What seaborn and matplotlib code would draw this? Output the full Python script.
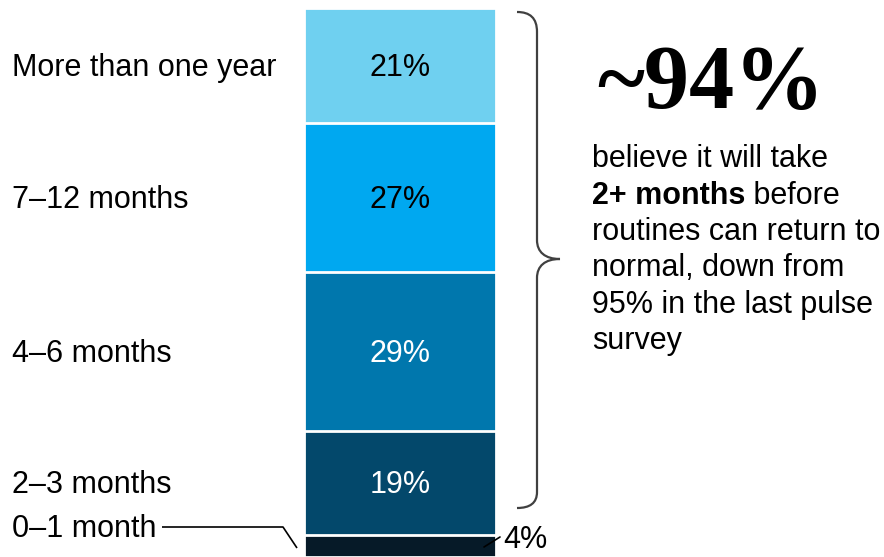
import numpy as np
import pandas as pd
import matplotlib
matplotlib.use("Agg")
import matplotlib.pyplot as plt
import matplotlib.transforms as mtransforms
from matplotlib.path import Path
from matplotlib.patches import PathPatch
import seaborn as sns

# Survey answers: how long until routines return to normal
categories = ["0–1 month", "2–3 months", "4–6 months", "7–12 months", "More than one year"]
shares = [4, 19, 29, 27, 21]
colors = ["#061A28", "#03486B", "#0077AD", "#00A8F0", "#6FD0F0"]
label_colors = ["black", "white", "white", "black", "black"]

headline = "~94%"
body_lines = [
    ("believe it will take", None),
    ("2+ months", " before"),
    ("routines can return to", None),
    ("normal, down from", None),
    ("95% in the last pulse", None),
    ("survey", None),
]

sns.set_theme(style="white")
plt.rcParams["font.family"] = ["Liberation Sans", "DejaVu Sans"]
plt.rcParams["text.color"] = "black"

W, H = 884, 557
fig = plt.figure(figsize=(W / 100, H / 100), dpi=100)
ax = fig.add_axes([0, 0, 1, 1])

# pixel coordinates, origin at top-left
pxT = mtransforms.Affine2D().scale(1 / W, -1 / H).translate(0, 1) + fig.transFigure
# shift down so a baseline-anchored label sits visually centred on its y
drop = mtransforms.ScaledTranslation(0, -10.5 / 100, fig.dpi_scale_trans)

tops = np.cumsum(shares)
bottoms = tops - np.array(shares)
df = pd.DataFrame({"group": ["all"] * len(shares), "category": categories, "top": tops})

# stacked column: draw cumulative heights tallest first so each band keeps its colour
for i in reversed(range(len(categories))):
    sns.barplot(data=df.iloc[[i]], x="group", y="top", color=colors[i], width=0.8,
                edgecolor="white", linewidth=2, saturation=1, errorbar=None, ax=ax)

ax.set_xlim(-1.6667, 2.0167)
ax.set_ylim(0, 100 * H / 549)
ax.axis("off")

# values inside the bands and category names on the left
ytr = ax.get_yaxis_transform()
for i in range(1, len(categories)):
    mid = bottoms[i] + shares[i] / 2
    ax.text(0, mid, f"{shares[i]}%", transform=ax.transData + drop, ha="center",
            va="baseline", fontsize=22, color=label_colors[i])
    ax.text(12 / W, mid, categories[i], transform=ytr + drop, ha="left",
            va="baseline", fontsize=22)

# smallest band is labelled outside with leader lines
ax.text(12, 537, categories[0], transform=pxT, ha="left", va="baseline", fontsize=22)
ax.plot([162, 283, 297], [527, 527, 548], transform=pxT, color="black", lw=1.2,
        solid_capstyle="butt")
ax.text(503, 548, f"{shares[0]}%", transform=pxT, ha="left", va="baseline", fontsize=22)
ax.plot([484, 500], [547, 537], transform=pxT, color="black", lw=1.2)

# curly brace spanning the 2+ months share
verts = [(517, 12), (530, 12), (537, 18), (537, 32),
         (537, 240),
         (537, 252), (545, 259), (560, 259),
         (545, 259), (537, 266), (537, 278),
         (537, 492),
         (537, 503), (530, 508), (517, 508)]
codes = [Path.MOVETO, Path.CURVE4, Path.CURVE4, Path.CURVE4,
         Path.LINETO,
         Path.CURVE4, Path.CURVE4, Path.CURVE4,
         Path.CURVE4, Path.CURVE4, Path.CURVE4,
         Path.LINETO,
         Path.CURVE4, Path.CURVE4, Path.CURVE4]
ax.add_patch(PathPatch(Path(verts, codes), transform=pxT, fill=False,
                       edgecolor="#404040", lw=1.6))

# headline figure and explanation
ax.text(597, 108, headline, transform=pxT, ha="left", va="baseline",
        fontsize=65, fontweight="bold", family=["Liberation Serif", "DejaVu Serif"])

baseline = 167
for bold_part, rest in body_lines:
    if rest is None:
        ax.text(592, baseline, bold_part, transform=pxT, ha="left", va="baseline",
                fontsize=22)
    else:
        t = ax.text(592, baseline, bold_part, transform=pxT, ha="left",
                    va="baseline", fontsize=22, fontweight="bold")
        ax.annotate(rest, xy=(1, baseline), xycoords=(t, pxT), ha="left",
                    va="baseline", fontsize=22)
    baseline += 36.5

fig.savefig("out.png", dpi=100)
